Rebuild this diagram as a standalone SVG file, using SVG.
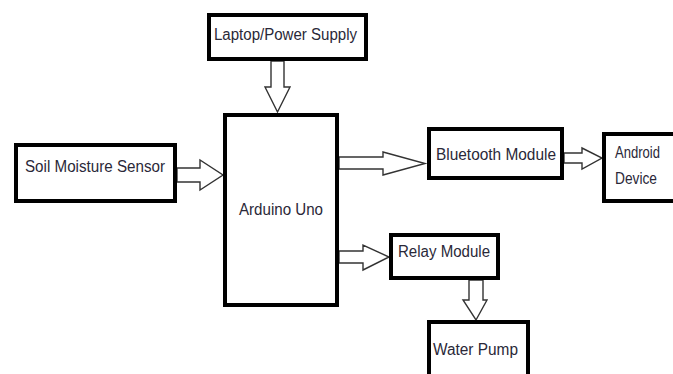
<svg xmlns="http://www.w3.org/2000/svg" width="673" height="374" viewBox="0 0 673 374">
<style>
.box{fill:#fff;stroke:#000;stroke-width:4}
.arr{fill:#fff;stroke:#333;stroke-width:1.4;stroke-linejoin:miter}
.lbl{font-family:"Liberation Sans",Arial,sans-serif;font-size:16px;fill:#2a2838}
</style>
<rect width="673" height="374" fill="#fff"/>
<g id="connectors">
<polygon class="arr" points="271,61 284,61 284,87 290,87 277.5,112 265,87 271,87"/>
<polygon class="arr" points="177,168 200,168 200,160 223,175 200,190 200,182 177,182"/>
<polygon class="arr" points="339,157 383,157 383,152 425,163.5 383,175 383,169 339,169"/>
<polygon class="arr" points="564,153 582,153 582,148 602,158 582,169 582,163 564,163"/>
<polygon class="arr" points="339,251 363,251 363,245 389,257 363,270 363,263 339,263"/>
<polygon class="arr" points="469,280 483,280 483,300 487,300 476,320 463,300 469,300"/>
</g>
<g id="laptop">
<rect class="box" x="209" y="15" width="157" height="44"/>
<text class="lbl" x="214" y="40" textLength="143" lengthAdjust="spacingAndGlyphs">Laptop/Power Supply</text>
</g>
<g id="arduino">
<rect class="box" x="225" y="115" width="112" height="190"/>
<text class="lbl" x="239" y="215" textLength="84" lengthAdjust="spacingAndGlyphs">Arduino Uno</text>
</g>
<g id="soil">
<rect class="box" x="16" y="145" width="159" height="56"/>
<text class="lbl" x="25" y="172" textLength="140" lengthAdjust="spacingAndGlyphs">Soil Moisture Sensor</text>
</g>
<g id="bluetooth">
<rect class="box" x="429" y="129" width="133" height="49"/>
<text class="lbl" x="436" y="160" textLength="120" lengthAdjust="spacingAndGlyphs">Bluetooth Module</text>
</g>
<g id="android">
<rect class="box" x="604" y="134" width="90" height="67"/>
<text class="lbl" x="615" y="158" textLength="45" lengthAdjust="spacingAndGlyphs">Android</text>
<text class="lbl" x="615" y="184" textLength="42" lengthAdjust="spacingAndGlyphs">Device</text>
</g>
<g id="relay">
<rect class="box" x="391" y="235" width="107" height="43"/>
<text class="lbl" x="398" y="257" textLength="92" lengthAdjust="spacingAndGlyphs">Relay Module</text>
</g>
<g id="pump">
<rect class="box" x="429" y="322" width="99" height="70"/>
<text class="lbl" x="433" y="355" textLength="85" lengthAdjust="spacingAndGlyphs">Water Pump</text>
</g>
</svg>
